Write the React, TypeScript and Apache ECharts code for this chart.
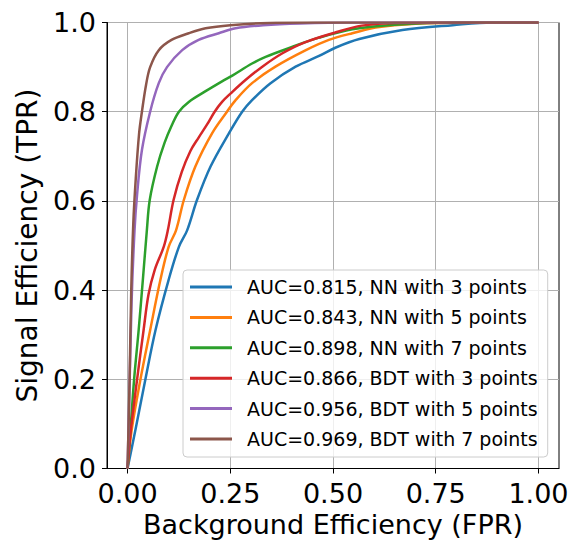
import React, { useEffect, useRef } from "react";
import * as echarts from "echarts";

const xTicks = [0, 0.25, 0.5, 0.75, 1.0];
const yTicks = [0, 0.2, 0.4, 0.6, 0.8, 1.0];

const seriesNames = [
  "AUC=0.815, NN with 3 points",
  "AUC=0.843, NN with 5 points",
  "AUC=0.898, NN with 7 points",
  "AUC=0.866, BDT with 3 points",
  "AUC=0.956, BDT with 5 points",
  "AUC=0.969, BDT with 7 points",
];

const colors = ["#1f77b4", "#ff7f0e", "#2ca02c", "#d62728", "#9467bd", "#8c564b"];

const nn3: number[][] = [
  [0, 0], [0.019, 0.086], [0.043, 0.198], [0.068, 0.31], [0.1, 0.423], [0.125, 0.497],
  [0.145, 0.534], [0.169, 0.602], [0.202, 0.677], [0.247, 0.752], [0.279, 0.8],
  [0.303, 0.826], [0.348, 0.864], [0.409, 0.901], [0.466, 0.925], [0.507, 0.944],
  [0.564, 0.963], [0.669, 0.983], [0.791, 0.994], [0.889, 1], [1, 1],
];
const nn5: number[][] = [
  [0, 0], [0.01, 0.086], [0.031, 0.198], [0.055, 0.31], [0.08, 0.423], [0.1, 0.497],
  [0.118, 0.534], [0.137, 0.602], [0.165, 0.677], [0.206, 0.752], [0.242, 0.8],
  [0.263, 0.826], [0.303, 0.864], [0.36, 0.901], [0.434, 0.938], [0.49, 0.961],
  [0.547, 0.976], [0.613, 0.99], [0.75, 0.999], [1, 1],
];
const nn7: number[][] = [
  [0, 0], [0.007, 0.086], [0.016, 0.2], [0.027, 0.31], [0.037, 0.42], [0.047, 0.534],
  [0.054, 0.602], [0.072, 0.677], [0.09, 0.73], [0.108, 0.77], [0.125, 0.8],
  [0.149, 0.822], [0.19, 0.846], [0.23, 0.868], [0.255, 0.881], [0.303, 0.908],
  [0.336, 0.923], [0.4, 0.945], [0.466, 0.966], [0.547, 0.985], [0.65, 0.995],
  [0.8, 1], [1, 1],
];
const bdt3: number[][] = [
  [0, 0], [0.008, 0.086], [0.023, 0.198], [0.039, 0.31], [0.051, 0.39], [0.066, 0.445],
  [0.088, 0.497], [0.098, 0.534], [0.112, 0.602], [0.132, 0.665], [0.153, 0.712],
  [0.173, 0.742], [0.194, 0.772], [0.212, 0.8], [0.23, 0.822], [0.251, 0.841],
  [0.287, 0.871], [0.328, 0.901], [0.377, 0.931], [0.43, 0.955], [0.507, 0.978],
  [0.57, 0.993], [0.65, 0.999], [1, 1],
];
const bdt5: number[][] = [
  [0, 0], [0.004, 0.15], [0.01, 0.378], [0.017, 0.534], [0.023, 0.612], [0.035, 0.714],
  [0.055, 0.8], [0.076, 0.864], [0.096, 0.9], [0.133, 0.938], [0.173, 0.961],
  [0.222, 0.976], [0.263, 0.987], [0.33, 0.994], [0.42, 0.998], [0.55, 1], [1, 1],
];
const bdt7: number[][] = [
  [0, 0], [0.005, 0.2], [0.009, 0.4], [0.014, 0.55], [0.02, 0.65], [0.028, 0.75],
  [0.035, 0.8], [0.045, 0.86], [0.055, 0.9], [0.076, 0.938], [0.107, 0.961],
  [0.149, 0.976], [0.19, 0.987], [0.25, 0.994], [0.34, 0.999], [0.45, 1], [1, 1],
];

const seriesData = [nn3, nn5, nn7, bdt3, bdt5, bdt7];

const FONT = "DejaVu Sans";

export default function App() {
  const ref = useRef<HTMLDivElement>(null);
  useEffect(() => {
    document.body.style.margin = "0";
    if (!ref.current) return;
    const chart = echarts.init(ref.current, null, { renderer: "svg" });
    chart.setOption({
      animation: false,
      backgroundColor: "#ffffff",
      textStyle: { fontFamily: FONT },
      grid: {
        left: 107,
        right: 14,
        top: 22.5,
        bottom: 73.5,
        show: true,
        borderColor: "#000",
        borderWidth: 1,
        backgroundColor: "transparent",
        containLabel: false,
        outerBoundsMode: "none",
      },
      xAxis: {
        type: "value",
        min: -0.05,
        max: 1.05,
        name: "Background Efficiency (FPR)",
        nameLocation: "middle",
        nameGap: 43,
        nameTextStyle: { fontSize: 27, lineHeight: 26, color: "#000", fontFamily: FONT },
        axisLine: { show: true, onZero: false, lineStyle: { color: "#000", width: 1 } },
        axisTick: {
          show: true,
          inside: false,
          length: 5,
          customValues: xTicks,
          lineStyle: { color: "#000", width: 1 },
        },
        axisLabel: {
          customValues: xTicks,
          formatter: (v: number) => v.toFixed(2),
          fontSize: 27,
          color: "#000",
          margin: 11,
          fontFamily: FONT,
        },
        splitLine: { show: true, lineStyle: { color: "#b0b0b0", width: 1 } },
      },
      yAxis: {
        type: "value",
        min: 0,
        max: 1,
        interval: 0.2,
        name: "Signal Efficiency (TPR)",
        nameLocation: "middle",
        nameGap: 66,
        nameTextStyle: { fontSize: 28, color: "#000", fontFamily: FONT },
        axisLine: { show: true, onZero: false, lineStyle: { color: "#000", width: 1 } },
        axisTick: { show: true, inside: false, length: 5, lineStyle: { color: "#000", width: 1 } },
        axisLabel: {
          formatter: (v: number) => v.toFixed(1),
          fontSize: 27,
          color: "#000",
          margin: 11,
          fontFamily: FONT,
        },
        splitLine: { show: true, lineStyle: { color: "#b0b0b0", width: 1 } },
      },
      legend: {
        orient: "vertical",
        left: 183,
        top: 270,
        icon: "rect",
        itemWidth: 42,
        itemHeight: 3,
        itemGap: 10.4,
        selectedMode: false,
        padding: [7, 10, 8, 7],
        backgroundColor: "rgba(255,255,255,0.8)",
        borderColor: "#cccccc",
        borderWidth: 1,
        borderRadius: 4,
        textStyle: {
          fontSize: 19,
          lineHeight: 20,
          color: "#000",
          fontFamily: FONT,
          padding: [0, 0, 0, 10],
        },
        data: seriesNames,
      },
      series: seriesNames.map((name, i) => ({
        name,
        type: "line",
        data: seriesData[i],
        showSymbol: false,
        smooth: 0.35,
        color: colors[i],
        lineStyle: { color: colors[i], width: 2.5 },
        emphasis: { disabled: true },
        z: 3 + i,
      })),
    });
    return () => chart.dispose();
  }, []);
  return <div ref={ref} style={{ width: 573, height: 542 }} />;
}
